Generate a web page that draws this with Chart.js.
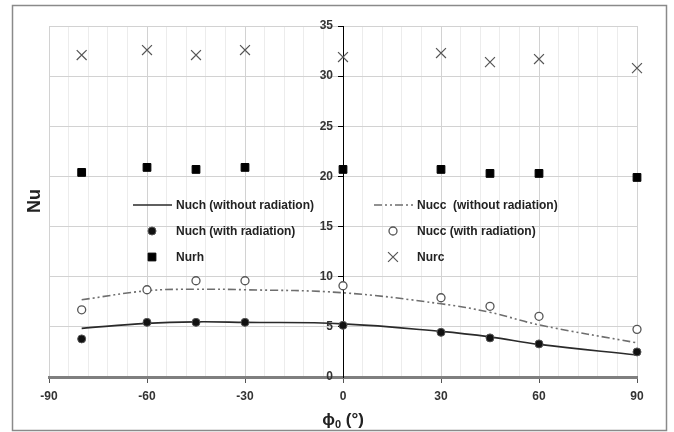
<!DOCTYPE html>
<html>
<head>
<meta charset="utf-8">
<script src="https://cdn.jsdelivr.net/npm/chart.js@4.4.1/dist/chart.umd.min.js"></script>
<style>
  html, body { margin: 0; padding: 0; background: #fff; }
  #wrap { width: 674px; height: 432px; }
</style>
</head>
<body>
<div id="wrap"><canvas id="nuChart" width="674" height="432"></canvas></div>
<script>
// inclination angle phi0 (deg)
const angles = [-80, -60, -45, -30, 0, 30, 45, 60, 90];
// fitted curves (without radiation)
const nuchFit = [4.85, 5.35, 5.5, 5.45, 5.3, 4.55, 4.0, 3.25, 2.2];
const nuccFit = [7.7, 8.6, 8.75, 8.7, 8.4, 7.3, 6.45, 5.2, 3.4];
// measured points
const nuchRad = [3.8, 5.45, 5.45, 5.45, 5.15, 4.45, 3.9, 3.3, 2.5];
const nuccRad = [6.7, 8.7, 9.6, 9.6, 9.1, 7.9, 7.05, 6.05, 4.75];
const nurh = [20.4, 20.9, 20.7, 20.9, 20.7, 20.7, 20.3, 20.3, 19.9];
const nurc = [32.1, 32.6, 32.1, 32.6, 31.9, 32.3, 31.4, 31.7, 30.8];
// labelled ticks
const xTickLabels = [-90, -60, -30, 0, 30, 60, 90];
const yTickLabels = [0, 5, 10, 15, 20, 25, 30, 35];

const FONT = '"Liberation Sans", Arial, sans-serif';
const DASHDOT = [8, 3, 2, 3, 2, 3];

function pts(ys) {
    return angles.map((x, i) => ({ x: x, y: ys[i] }));
}

// frame, axis titles and the in-plot legend
const decorPlugin = {
    id: 'decor',
    beforeDraw(chart) {
        const c = chart.ctx;
        c.save();
        c.fillStyle = '#fff';
        c.fillRect(0, 0, chart.width, chart.height);
        c.restore();
    },
    afterDraw(chart) {
        const c = chart.ctx;
        const ds = chart.data.datasets;
        c.save();
        // outer frame
        c.strokeStyle = '#8a8a8a';
        c.lineWidth = 1.5;
        c.strokeRect(12.5, 5.5, 654, 425);

        // y title
        c.fillStyle = '#222';
        c.font = 'bold 18px ' + FONT;
        c.textAlign = 'center';
        c.textBaseline = 'middle';
        c.translate(35, 201);
        c.rotate(-Math.PI / 2);
        c.fillText('Nu', 0, 0);
        c.setTransform(1, 0, 0, 1, 0, 0);

        // x title  phi_0 (°)
        c.textAlign = 'left';
        c.textBaseline = 'alphabetic';
        const big = 'bold 17px ' + FONT, small = 'bold 11px ' + FONT;
        c.font = big; const w1 = c.measureText('ϕ').width;
        c.font = small; const w2 = c.measureText('0').width;
        c.font = big; const w3 = c.measureText(' (°)').width;
        let x = 343 - (w1 + w2 + w3) / 2;
        const base = 425;
        c.font = big; c.fillText('ϕ', x, base); x += w1;
        c.font = small; c.fillText('0', x, base + 3); x += w2;
        c.font = big; c.fillText(' (°)', x, base);

        // legend
        const items = [
            { d: 0, x: 133, y: 205 }, { d: 1, x: 374, y: 205 },
            { d: 2, x: 133, y: 231 }, { d: 3, x: 374, y: 231 },
            { d: 4, x: 133, y: 257 }, { d: 5, x: 374, y: 257 }
        ];
        c.font = 'bold 12px ' + FONT;
        c.textBaseline = 'middle';
        items.forEach(it => {
            const d = ds[it.d];
            if (d.showLine) {
                c.beginPath();
                c.setLineDash(d.borderDash || []);
                c.strokeStyle = d.borderColor;
                c.lineWidth = d.borderWidth;
                c.moveTo(it.x, it.y);
                c.lineTo(it.x + 39, it.y);
                c.stroke();
                c.setLineDash([]);
            } else {
                drawMarker(c, d, it.x + 19, it.y);
            }
            c.fillStyle = '#222';
            c.fillText(d.label, it.x + 43, it.y + 1);
        });
        c.restore();
    }
};

// same geometry as Chart.js point styles
function drawMarker(c, d, x, y) {
    const r = d.pointRadius;
    const h = r * Math.SQRT1_2;
    c.save();
    c.lineWidth = d.pointBorderWidth;
    c.strokeStyle = d.pointBorderColor;
    c.fillStyle = d.pointBackgroundColor;
    c.beginPath();
    if (d.pointStyle === 'circle') {
        c.arc(x, y, r, 0, Math.PI * 2);
        c.fill(); c.stroke();
    } else if (d.pointStyle === 'rect') {
        c.rect(x - h, y - h, 2 * h, 2 * h);
        c.fill(); c.stroke();
    } else {
        c.moveTo(x - h, y - h); c.lineTo(x + h, y + h);
        c.moveTo(x + h, y - h); c.lineTo(x - h, y + h);
        c.stroke();
    }
    c.restore();
}

new Chart(document.getElementById('nuChart'), {
    type: 'scatter',
    data: {
        datasets: [
            {
                label: 'Nuch (without radiation)', data: pts(nuchFit), showLine: true,
                borderColor: '#2a2a2a', borderWidth: 1.6, pointRadius: 0, tension: 0.4, order: 6
            },
            {
                label: 'Nucc  (without radiation)', data: pts(nuccFit), showLine: true,
                borderColor: '#6e6e6e', borderWidth: 1.6, borderDash: DASHDOT, pointRadius: 0, tension: 0.4, order: 5
            },
            {
                label: 'Nuch (with radiation)', data: pts(nuchRad), showLine: false, clip: false,
                pointStyle: 'circle', pointRadius: 4, pointBackgroundColor: '#111', pointBorderColor: '#555', pointBorderWidth: 1, order: 1
            },
            {
                label: 'Nucc (with radiation)', data: pts(nuccRad), showLine: false, clip: false,
                pointStyle: 'circle', pointRadius: 4, pointBackgroundColor: '#fff', pointBorderColor: '#555', pointBorderWidth: 1.3, order: 2
            },
            {
                label: 'Nurh', data: pts(nurh), showLine: false, clip: false,
                pointStyle: 'rect', pointRadius: 5.5, pointBackgroundColor: '#000', pointBorderColor: '#000', pointBorderWidth: 1, order: 3
            },
            {
                label: 'Nurc', data: pts(nurc), showLine: false, clip: false,
                pointStyle: 'crossRot', pointRadius: 7, pointBackgroundColor: '#555', pointBorderColor: '#555', pointBorderWidth: 1.2, order: 4
            }
        ]
    },
    options: {
        responsive: false,
        animation: false,
        layout: { padding: { left: 49, right: 37, top: 26, bottom: 55 } },
        plugins: { legend: { display: false }, tooltip: { enabled: false } },
        scales: {
            x: {
                type: 'linear', min: -90, max: 90,
                position: { y: 0 },
                afterFit: s => { s.height = 0; },
                ticks: {
                    stepSize: 6, autoSkip: false, maxRotation: 0, padding: 8,
                    color: '#333', font: { family: FONT, size: 12, weight: 'bold' },
                    callback: v => xTickLabels.includes(v) ? String(v) : ''
                },
                grid: {
                    color: ctx => ctx.tick && ctx.tick.value % 30 === 0 ? '#d2d2d2' : '#ececec',
                    tickColor: ctx => ctx.tick && ctx.tick.value % 30 === 0 ? '#555' : 'rgba(0,0,0,0)',
                    tickLength: 4
                },
                border: { color: '#7f7f7f', width: 3 }
            },
            y: {
                type: 'linear', min: 0, max: 35,
                position: { x: 0 },
                afterFit: s => { s.width = 0; },
                ticks: {
                    stepSize: 5, padding: 6,
                    color: '#333', font: { family: FONT, size: 12, weight: 'bold' },
                    // labels are right-aligned on the axis line; pad them off it
                    callback: v => yTickLabels.includes(v) ? String(v) + '   ' : ''
                },
                grid: { color: '#d2d2d2', tickColor: '#000', tickLength: 5 },
                border: { color: '#000', width: 1 }
            }
        }
    },
    plugins: [decorPlugin]
});
</script>
</body>
</html>
